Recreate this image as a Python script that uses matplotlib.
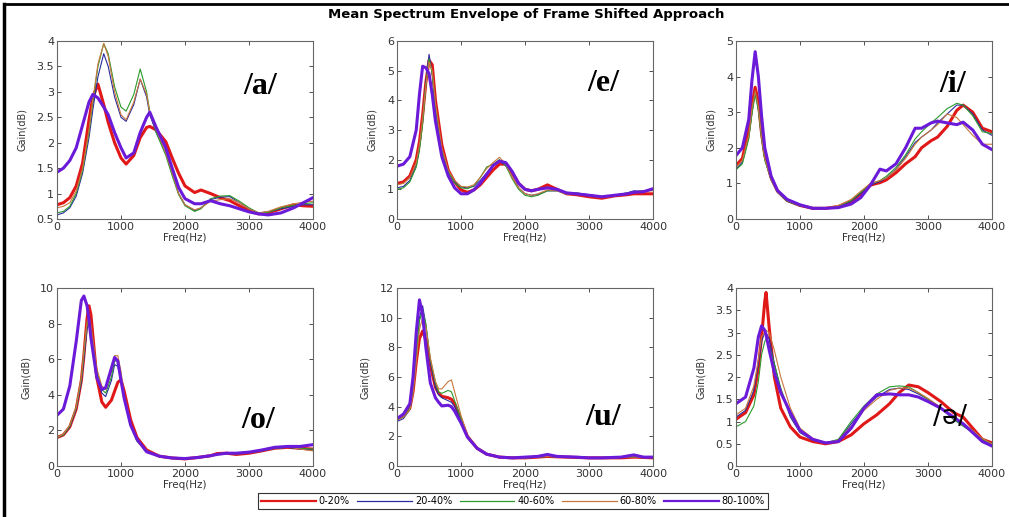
import matplotlib
matplotlib.use("Agg")
import matplotlib.pyplot as plt
from matplotlib.ticker import FuncFormatter
from matplotlib.lines import Line2D
import numpy as np

series_names = ["0-20%", "20-40%", "40-60%", "60-80%", "80-100%"]
series_colors = ["#e01818", "#2a2aa0", "#2c9a2c", "#c8783c", "#6a1ad8"]
series_widths = [2.2, 0.8, 0.8, 0.8, 2.2]

# /a/
freq_a = [0, 100, 200, 300, 400, 500, 560, 640, 730, 800, 900, 1000, 1080, 1200, 1300, 1400, 1450,
          1550, 1700, 1800, 1900, 2000, 2150, 2250, 2400, 2550, 2700, 2850, 3000, 3150, 3300, 3500,
          3700, 3850, 4000]
a_0_20 = [0.78, 0.82, 0.92, 1.15, 1.6, 2.45, 2.9, 3.15, 2.75, 2.4, 2.0, 1.7, 1.58, 1.75, 2.1, 2.3, 2.32,
          2.25, 2.02, 1.7, 1.4, 1.15, 1.02, 1.07, 1.0, 0.92, 0.86, 0.76, 0.66, 0.6, 0.62, 0.7,
          0.78, 0.76, 0.75]
a_20_40 = [0.58, 0.62, 0.72, 0.95, 1.4, 2.1, 2.65, 3.3, 3.75, 3.5, 2.9, 2.5, 2.42, 2.75, 3.25, 2.9, 2.55,
           2.2, 1.8, 1.4, 1.0, 0.78, 0.66, 0.72, 0.88, 0.93, 0.94, 0.82, 0.7, 0.62, 0.64, 0.7,
           0.75, 0.78, 0.78]
a_40_60 = [0.62, 0.65, 0.75, 1.0, 1.45, 2.2, 2.8, 3.5, 3.95, 3.75, 3.1, 2.7, 2.62, 2.95, 3.45, 3.0, 2.6,
           2.2, 1.75, 1.35, 0.98, 0.76, 0.65, 0.7, 0.9, 0.95, 0.96, 0.85, 0.72, 0.62, 0.63, 0.72,
           0.77, 0.8, 0.82]
a_60_80 = [0.72, 0.75, 0.82, 1.05, 1.5, 2.25, 2.85, 3.55, 3.95, 3.7, 3.0, 2.55, 2.45, 2.8, 3.25, 2.95, 2.6,
           2.25, 1.8, 1.4, 1.0, 0.78, 0.68, 0.72, 0.85, 0.88, 0.9, 0.82, 0.7, 0.62, 0.65, 0.74,
           0.8, 0.83, 0.85]
a_80_100 = [1.42, 1.5, 1.65, 1.9, 2.35, 2.8, 2.95, 2.88, 2.7, 2.55, 2.2, 1.9, 1.7, 1.8, 2.2, 2.5, 2.6,
            2.3, 1.9, 1.5, 1.12, 0.9, 0.8, 0.8, 0.86, 0.8, 0.76, 0.7, 0.64, 0.6, 0.58, 0.62,
            0.72, 0.82, 0.92]

# /e/
freq_e = [0, 100, 200, 300, 350, 400, 450, 500, 550, 600, 700, 800, 900, 1000, 1100, 1200, 1300, 1400,
          1500, 1600, 1700, 1800, 1900, 2000, 2100, 2200, 2350, 2500, 2650, 2800, 3000, 3200, 3400,
          3600, 3700, 3850, 4000]
e_0_20 = [1.2, 1.25, 1.45, 2.0, 2.6, 3.5, 4.6, 5.35, 5.2, 4.0, 2.5, 1.65, 1.25, 0.98, 0.9, 0.98, 1.15, 1.4,
          1.65, 1.85, 1.85, 1.55, 1.2, 1.0, 0.95, 1.0, 1.15, 1.0, 0.85, 0.82, 0.75, 0.7, 0.78,
          0.82, 0.85, 0.85, 0.85]
e_20_40 = [1.05, 1.1, 1.3, 1.8, 2.4, 3.3, 4.6, 5.55, 4.9, 3.7, 2.3, 1.6, 1.25, 1.08, 1.05, 1.1, 1.3, 1.55,
           1.8, 1.95, 1.8, 1.4, 1.05, 0.85, 0.8, 0.82, 0.95, 0.95, 0.85, 0.88, 0.82, 0.75, 0.8,
           0.88, 0.95, 0.92, 1.0]
e_40_60 = [1.0, 1.05, 1.25, 1.75, 2.3, 3.2, 4.5, 5.4, 4.9, 3.8, 2.3, 1.6, 1.22, 1.05, 1.02, 1.12, 1.4, 1.75,
           1.85, 2.0, 1.8, 1.35, 1.0, 0.8, 0.75, 0.8, 0.95, 0.95, 0.85, 0.88, 0.8, 0.75, 0.8,
           0.88, 0.92, 0.95, 0.98]
e_60_80 = [1.15, 1.2, 1.4, 1.9, 2.5, 3.4, 4.5, 5.3, 5.0, 3.9, 2.4, 1.65, 1.3, 1.1, 1.08, 1.15, 1.4, 1.7,
           1.9, 2.08, 1.85, 1.4, 1.05, 0.85, 0.8, 0.85, 0.98, 0.95, 0.85, 0.85, 0.78, 0.72, 0.78,
           0.85, 0.9, 0.95, 0.95]
e_80_100 = [1.78, 1.85, 2.1, 3.0, 4.2, 5.15, 5.1, 4.9, 4.2, 3.3, 2.1, 1.45, 1.05, 0.85, 0.85, 0.98, 1.2, 1.5,
            1.8, 1.95, 1.9, 1.6, 1.2, 1.0, 0.95, 1.0, 1.05, 1.0, 0.88, 0.85, 0.8, 0.75, 0.8,
            0.85, 0.9, 0.92, 1.02]

# /i/
freq_i = [0, 100, 200, 250, 300, 350, 400, 450, 550, 650, 800, 1000, 1200, 1400, 1600, 1800, 1950, 2100,
          2200, 2250, 2350, 2500, 2650, 2800, 2900, 3050, 3150, 3300, 3450, 3550, 3700, 3850, 4000]
i_0_20 = [1.5, 1.7, 2.5, 3.2, 3.7, 3.3, 2.4, 1.8, 1.15, 0.78, 0.52, 0.38, 0.3, 0.3, 0.35, 0.5, 0.7, 0.95,
          1.0, 1.02, 1.1, 1.3, 1.55, 1.75, 2.0, 2.2, 2.3, 2.6, 3.05, 3.2, 3.0, 2.55, 2.45]
i_20_40 = [1.4, 1.6, 2.3, 3.0, 3.55, 3.1, 2.3, 1.7, 1.1, 0.75, 0.5, 0.37, 0.3, 0.3, 0.35, 0.5, 0.72, 0.95,
           1.02, 1.05, 1.15, 1.4, 1.75, 2.15, 2.3, 2.5, 2.7, 2.95, 3.2, 3.2, 2.95, 2.5, 2.35]
i_40_60 = [1.38, 1.55, 2.25, 2.95, 3.5, 3.05, 2.25, 1.65, 1.1, 0.75, 0.5, 0.37, 0.3, 0.3, 0.36, 0.52, 0.75,
           0.98, 1.05, 1.08, 1.2, 1.45, 1.8, 2.25, 2.45, 2.7, 2.85, 3.1, 3.25, 3.2, 2.9, 2.45, 2.4]
i_60_80 = [1.45, 1.65, 2.35, 3.1, 3.6, 3.15, 2.3, 1.7, 1.1, 0.76, 0.52, 0.38, 0.3, 0.31, 0.38, 0.55, 0.78,
           1.0, 1.05, 1.08, 1.15, 1.38, 1.7, 2.1, 2.3, 2.5, 2.65, 2.95, 2.85, 2.65, 2.35, 2.1, 2.1]
i_80_100 = [1.78, 2.0, 2.8, 3.9, 4.7, 4.0, 2.9, 2.0, 1.2, 0.8, 0.55, 0.4, 0.3, 0.3, 0.32, 0.42, 0.6, 0.95,
            1.25, 1.4, 1.35, 1.55, 2.0, 2.55, 2.55, 2.7, 2.75, 2.7, 2.65, 2.72, 2.5, 2.1, 1.95]

# /o/
freq_o = [0, 100, 200, 300, 380, 420, 470, 500, 530, 620, 700, 760, 850, 900, 950, 1000, 1050, 1150, 1250,
          1400, 1600, 1800, 2000, 2200, 2400, 2500, 2650, 2800, 3000, 3200, 3400, 3600, 3800, 4000]
o_0_20 = [1.6, 1.75, 2.2, 3.2, 4.8, 6.2, 8.3, 9.0, 8.5, 5.0, 3.6, 3.3, 3.7, 4.2, 4.7, 4.85, 4.2, 2.6, 1.6,
          0.9, 0.55, 0.45, 0.4, 0.48, 0.58, 0.7, 0.72, 0.65, 0.72, 0.85, 1.0, 1.05, 1.0, 0.95]
o_20_40 = [1.6, 1.75, 2.2, 3.2, 4.7, 6.0, 7.7, 8.0, 7.6, 5.2, 4.1, 3.9, 4.8, 5.7, 5.6, 4.8, 3.8, 2.3, 1.4,
           0.85, 0.55, 0.45, 0.42, 0.48, 0.58, 0.68, 0.72, 0.68, 0.75, 0.85, 1.0, 1.05, 0.95, 0.9]
o_40_60 = [1.6, 1.75, 2.25, 3.3, 4.9, 6.3, 8.0, 8.3, 7.8, 5.4, 4.3, 4.1, 5.0, 5.9, 5.9, 5.0, 3.9, 2.3, 1.4,
           0.85, 0.55, 0.45, 0.42, 0.48, 0.58, 0.68, 0.72, 0.68, 0.75, 0.85, 1.0, 1.05, 1.0, 0.95]
o_60_80 = [1.6, 1.8, 2.3, 3.3, 5.0, 6.4, 8.1, 8.4, 7.9, 5.5, 4.5, 4.3, 5.3, 6.2, 6.2, 5.3, 4.0, 2.4, 1.45,
           0.85, 0.55, 0.45, 0.42, 0.48, 0.58, 0.68, 0.72, 0.7, 0.78, 0.88, 1.05, 1.1, 0.95, 0.85]
o_80_100 = [2.85, 3.2, 4.5, 7.0, 9.3, 9.55, 9.0, 8.2, 7.2, 5.0, 4.3, 4.4, 5.5, 6.1, 5.9, 4.8, 3.8, 2.3, 1.5,
            0.8, 0.55, 0.45, 0.42, 0.48, 0.58, 0.65, 0.72, 0.72, 0.78, 0.9, 1.05, 1.1, 1.1, 1.2]

# /u/
freq_u = [0, 100, 200, 250, 300, 350, 400, 450, 520, 600, 650, 700, 800, 850, 900, 1000, 1100, 1250, 1400,
          1600, 1800, 2000, 2200, 2350, 2500, 2800, 3000, 3200, 3500, 3700, 3850, 4000]
u_0_20 = [3.2, 3.4, 3.9, 5.0, 7.0, 8.6, 9.1, 8.5, 6.8, 5.3, 4.9, 4.7, 4.6, 4.5, 4.2, 3.1, 2.0, 1.2, 0.8,
          0.6, 0.55, 0.55, 0.6, 0.65, 0.62, 0.58, 0.55, 0.55, 0.55, 0.6, 0.58, 0.55]
u_20_40 = [3.0, 3.2, 3.8, 5.0, 7.5, 10.0, 10.8, 9.5, 7.0, 5.3, 4.8, 4.6, 4.4, 4.3, 4.0, 3.1, 2.0, 1.2, 0.8,
           0.6, 0.55, 0.55, 0.6, 0.65, 0.62, 0.58, 0.55, 0.55, 0.58, 0.65, 0.6, 0.6]
u_40_60 = [3.1, 3.3, 3.9, 5.1, 7.6, 9.8, 10.5, 9.6, 7.2, 5.6, 5.0, 4.9, 5.1, 5.0, 4.4, 3.2, 2.0, 1.2, 0.8,
           0.6, 0.55, 0.55, 0.6, 0.65, 0.62, 0.58, 0.55, 0.55, 0.58, 0.62, 0.6, 0.6]
u_60_80 = [3.1, 3.3, 3.8, 4.8, 7.0, 9.2, 10.0, 9.4, 7.3, 5.7, 5.2, 5.2, 5.7, 5.8, 5.0, 3.4, 2.1, 1.25, 0.8,
           0.6, 0.55, 0.55, 0.6, 0.65, 0.62, 0.58, 0.55, 0.55, 0.58, 0.62, 0.6, 0.6]
u_80_100 = [3.2, 3.5, 4.2, 6.0, 9.0, 11.2, 10.2, 8.0, 5.6, 4.6, 4.3, 4.05, 4.1, 4.0, 3.7, 2.9, 1.95, 1.2, 0.8,
            0.6, 0.55, 0.6, 0.65, 0.78, 0.65, 0.6, 0.55, 0.55, 0.6, 0.75, 0.6, 0.6]

# /ə/
freq_schwa = [0, 150, 280, 350, 400, 450, 470, 520, 600, 700, 850, 1000, 1200, 1400, 1600, 1800, 2000, 2200,
              2400, 2550, 2700, 2850, 3000, 3200, 3400, 3550, 3700, 3850, 4000]
schwa_0_20 = [1.05, 1.2, 1.6, 2.2, 2.9, 3.7, 3.9, 3.1, 2.0, 1.3, 0.88, 0.65, 0.55, 0.5, 0.55, 0.7, 0.95, 1.15,
              1.4, 1.65, 1.82, 1.78, 1.65, 1.45, 1.2, 1.1, 0.85, 0.6, 0.52]
schwa_20_40 = [1.1, 1.25, 1.7, 2.3, 2.8, 3.0, 3.0, 2.85, 2.3, 1.7, 1.1, 0.75, 0.58, 0.52, 0.58, 0.95, 1.3, 1.55,
               1.72, 1.75, 1.72, 1.62, 1.5, 1.3, 1.05, 0.9, 0.75, 0.6, 0.5]
schwa_40_60 = [0.88, 1.0, 1.35, 1.9, 2.5, 2.8, 2.85, 2.7, 2.3, 1.75, 1.15, 0.78, 0.6, 0.52, 0.6, 1.0, 1.35, 1.62,
               1.78, 1.8, 1.78, 1.65, 1.5, 1.3, 1.05, 0.9, 0.75, 0.6, 0.5]
schwa_60_80 = [1.15, 1.3, 1.8, 2.4, 2.9, 3.0, 3.05, 3.0, 2.6, 2.0, 1.3, 0.85, 0.62, 0.52, 0.58, 0.9, 1.25, 1.5,
               1.7, 1.75, 1.75, 1.65, 1.52, 1.32, 1.08, 0.95, 0.8, 0.62, 0.5]
schwa_80_100 = [1.4, 1.55, 2.2, 2.9, 3.15, 3.05, 2.95, 2.6, 2.1, 1.65, 1.2, 0.8, 0.6, 0.52, 0.55, 0.85, 1.3, 1.6,
                1.62, 1.6, 1.6, 1.55, 1.45, 1.3, 1.1, 0.95, 0.75, 0.55, 0.45]

panels = [
    ("/a/", freq_a, [a_0_20, a_20_40, a_40_60, a_60_80, a_80_100], (0.5, 4), [0.5, 1, 1.5, 2, 2.5, 3, 3.5, 4], (0.793, 0.742)),
    ("/e/", freq_e, [e_0_20, e_20_40, e_40_60, e_60_80, e_80_100], (0, 6), [0, 1, 2, 3, 4, 5, 6], (0.805, 0.764)),
    ("/i/", freq_i, [i_0_20, i_20_40, i_40_60, i_60_80, i_80_100], (0, 5), [0, 1, 2, 3, 4, 5], (0.848, 0.758)),
    ("/o/", freq_o, [o_0_20, o_20_40, o_40_60, o_60_80, o_80_100], (0, 10), [0, 2, 4, 6, 8, 10], (0.785, 0.258)),
    ("/u/", freq_u, [u_0_20, u_20_40, u_40_60, u_60_80, u_80_100], (0, 12), [0, 2, 4, 6, 8, 10, 12], (0.805, 0.27)),
    ("/ə/", freq_schwa, [schwa_0_20, schwa_20_40, schwa_40_60, schwa_60_80, schwa_80_100], (0, 4), [0, 0.5, 1, 1.5, 2, 2.5, 3, 3.5, 4], (0.836, 0.275)),
]

fig = plt.figure(figsize=(10.09, 5.17), dpi=100)
fig.patch.set_facecolor("white")

lefts = [0.0565, 0.3935, 0.7294]
bottoms = [0.5764, 0.0986]
w, h = 0.2537, 0.3443

fmt = FuncFormatter(lambda v, p: "%g" % v)

for n, (label, freq, ys, ylim, yticks, lpos) in enumerate(panels):
    ax = fig.add_axes([lefts[n % 3], bottoms[n // 3], w, h])
    for k in range(5):
        ax.plot(freq, ys[k], color=series_colors[k], lw=series_widths[k])
    ax.set_xlim(0, 4000)
    ax.set_ylim(*ylim)
    ax.set_xticks([0, 1000, 2000, 3000, 4000])
    ax.set_yticks(yticks)
    ax.yaxis.set_major_formatter(fmt)
    ax.tick_params(direction="in", top=True, right=True, length=3, width=0.6,
                   colors="#333333", labelsize=8, pad=2)
    for t in ax.get_xticklabels() + ax.get_yticklabels():
        t.set_family("DejaVu Sans")
    for s in ax.spines.values():
        s.set_color("#666666")
        s.set_linewidth(0.8)
    ax.set_xlabel("Freq(Hz)", fontsize=7.5, family="DejaVu Sans", color="#333333", labelpad=1)
    ax.set_ylabel("Gain(dB)", fontsize=7, family="DejaVu Sans", color="#333333", labelpad=7)
    if n != 5:
        ax.text(lpos[0], lpos[1], label, transform=ax.transAxes, fontsize=23, fontweight="bold",
                family="Liberation Serif", ha="center", va="center", color="black")
    else:
        ax.text(lpos[0], lpos[1], label, transform=ax.transAxes, fontsize=19,
                family="DejaVu Sans", ha="center", va="center", color="black")

fig.text(0.521, 0.971, "Mean Spectrum Envelope of Frame Shifted Approach", ha="center", va="center",
         fontsize=9.5, fontweight="bold", family="DejaVu Sans")

handles = [Line2D([], [], color=series_colors[k], lw=1.6 if series_widths[k] > 1 else 0.9) for k in range(5)]
leg = fig.legend(handles, series_names, loc="center", bbox_to_anchor=(0.5085, 0.0309), ncol=5,
                 prop={"family": "DejaVu Sans", "size": 7}, handlelength=5.6, handletextpad=0.3,
                 columnspacing=0.8, fancybox=False, framealpha=1, borderpad=0.3)
leg.get_frame().set_edgecolor("#333333")
leg.get_frame().set_linewidth(0.8)

# outer frame (top and left edges visible)
fig.add_artist(Line2D([0.004, 1.0], [0.992, 0.992], color="black", lw=2, transform=fig.transFigure))
fig.add_artist(Line2D([0.004, 0.004], [0.0, 0.992], color="black", lw=2.5, transform=fig.transFigure))

fig.savefig("out.png", dpi=100)
